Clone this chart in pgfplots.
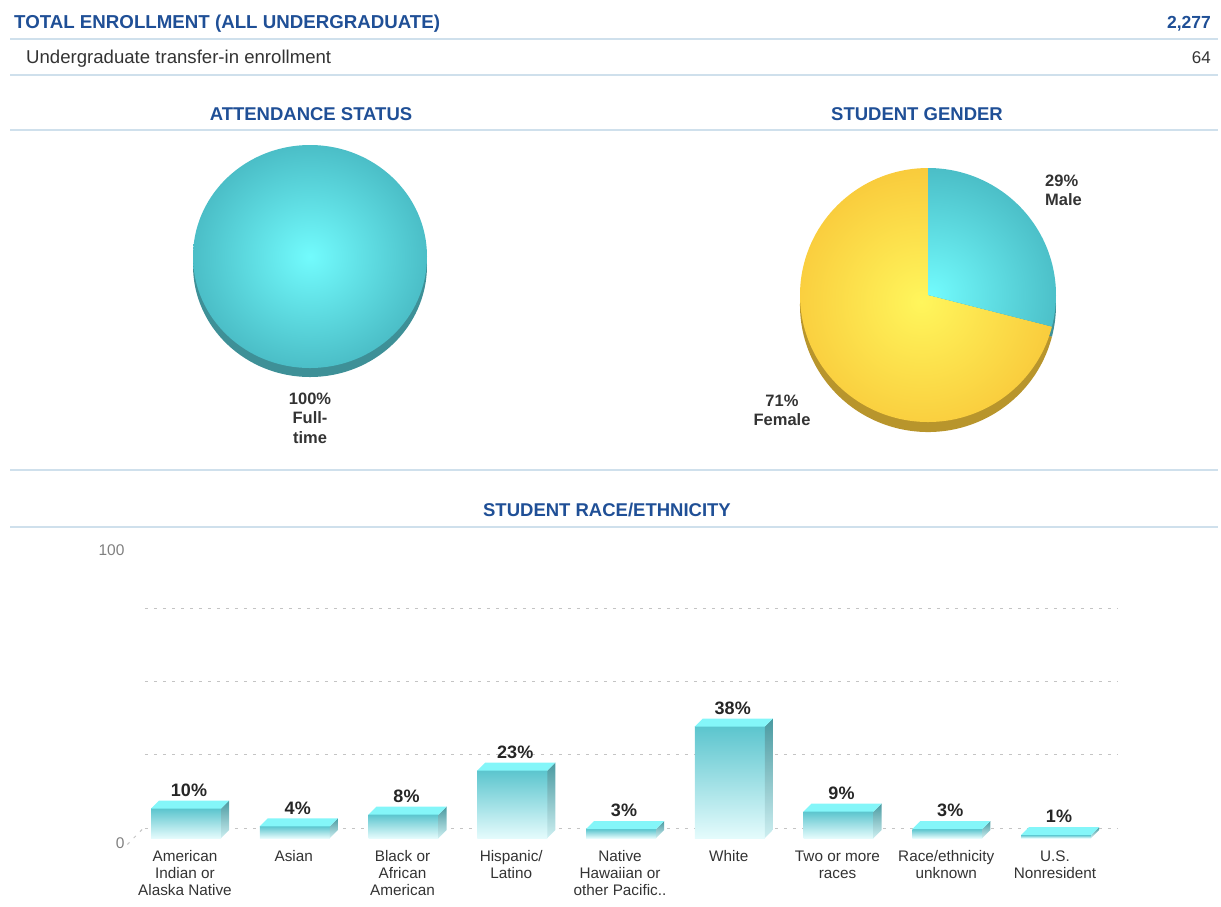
\documentclass[border=0pt]{standalone}
\usepackage{pgfplots}
\pgfplotsset{compat=1.18}
\usepackage{pgfplotstable}
\usepackage{fontspec}
\setmainfont{Liberation Sans}

\definecolor{hdrblue}{HTML}{1F4F96}
\definecolor{rulec}{HTML}{CFE0EC}
\definecolor{txt}{HTML}{333333}
\definecolor{tickgray}{HTML}{808080}
\definecolor{tealout}{HTML}{4BBEC7}
\definecolor{tealin}{HTML}{72FBFD}
\definecolor{tealrim}{HTML}{3E9097}
\definecolor{yelout}{HTML}{F9CB3C}
\definecolor{yelin}{HTML}{FFF65C}
\definecolor{yelrim}{HTML}{B8952C}
\definecolor{fronttop}{HTML}{5CC5CE}
\definecolor{frontbot}{HTML}{E4FBFC}
\definecolor{topface}{HTML}{84F6F9}
\definecolor{sidetop}{HTML}{4A9AA1}
\definecolor{sidebot}{HTML}{CDEFF1}
\definecolor{gridc}{HTML}{C4C4C4}

\pgfplotstableread{
idx value
0 10
1 4
2 8
3 23
4 3
5 38
6 9
7 3
8 1
}\racetable

\pgfplotstableread{
label value
Fulltime 100
}\attendtable

\pgfplotstableread{
label value
Male 29
Female 71
}\gendertable

\pgfdeclareplotmark{none3d}{}

\begin{document}
\begin{tikzpicture}
\pgfplotstablegetelem{0}{value}\of\gendertable
\edef\malepct{\pgfplotsretval}
\pgfmathsetmacro\maleend{90-3.6*\malepct}
\pgfmathsetmacro\mx{128*cos(\maleend)}
\pgfmathsetmacro\my{127*sin(\maleend)}
\pgfplotstablegetelem{0}{value}\of\attendtable
\edef\ftpct{\pgfplotsretval}
\pgfmathsetmacro\ftend{90-3.6*\ftpct}

\path[use as bounding box] (0pt,0pt) rectangle (1221pt,-906pt);

% ---- header table ----
\node[anchor=base west, inner sep=0pt, font=\fontsize{18.7}{21}\selectfont\bfseries, text=hdrblue] at (14pt,-28pt) {TOTAL ENROLLMENT (ALL UNDERGRADUATE)};
\node[anchor=base east, inner sep=0pt, font=\fontsize{17.5}{21}\selectfont\bfseries, text=hdrblue] at (1211pt,-28pt) {2,277};
\draw[rulec, line width=1.6pt] (10pt,-39pt) -- (1218pt,-39pt);
\node[anchor=base west, inner sep=0pt, font=\fontsize{18.6}{21}\selectfont, text=txt] at (26pt,-63pt) {Undergraduate transfer-in enrollment};
\node[anchor=base east, inner sep=0pt, font=\fontsize{17}{21}\selectfont, text=txt] at (1211pt,-63pt) {64};
\draw[rulec, line width=1.6pt] (10pt,-75pt) -- (1218pt,-75pt);

\node[anchor=base, inner sep=0pt, font=\fontsize{18.5}{21}\selectfont\bfseries, text=hdrblue] at (311pt,-120.5pt) {ATTENDANCE STATUS};
\node[anchor=base, inner sep=0pt, font=\fontsize{18.5}{21}\selectfont\bfseries, text=hdrblue] at (917pt,-120.5pt) {STUDENT GENDER};
\draw[rulec, line width=1.6pt] (10pt,-130pt) -- (1218pt,-130pt);
\draw[rulec, line width=1.6pt] (10pt,-470pt) -- (1218pt,-470pt);
\node[anchor=base, inner sep=0pt, font=\fontsize{18.5}{21}\selectfont\bfseries, text=hdrblue] at (607pt,-516pt) {STUDENT RACE/ETHNICITY};
\draw[rulec, line width=1.6pt] (10pt,-527pt) -- (1218pt,-527pt);

% ---- attendance pie ----
\begin{axis}[at={(310pt,-256.5pt)}, anchor=origin, x=1pt, y=1pt,
  xmin=-150, xmax=150, ymin=-150, ymax=150, hide axis, clip=false]
\fill[tealrim, yshift=-9pt] (axis cs:0,0) -- (axis cs:0,111.5) arc[start angle=90, end angle=\ftend, x radius=117pt, y radius=111.5pt] -- cycle;
\path[path picture={\shade[inner color=tealin, outer color=tealout] (axis cs:0,0) ellipse[x radius=117pt, y radius=111.5pt];}]
  (axis cs:0,0) -- (axis cs:0,111.5) arc[start angle=90, end angle=\ftend, x radius=117pt, y radius=111.5pt] -- cycle;
\node[align=center, font=\fontsize{16.5}{19.5}\selectfont\bfseries, text=txt, inner sep=0pt] at (axis cs:0,-161.5) {100\%\\Full-\\time};
\end{axis}

% ---- gender pie ----
\begin{axis}[at={(928pt,-295pt)}, anchor=origin, x=1pt, y=1pt,
  xmin=-150, xmax=150, ymin=-150, ymax=150, hide axis, clip=false]
\fill[yelrim, yshift=-10pt] (axis cs:0,0) -- (axis cs:\mx,\my) arc[start angle=\maleend, end angle=-270, x radius=128pt, y radius=127pt] -- cycle;
\fill[tealrim, yshift=-10pt] (axis cs:0,0) -- (axis cs:0,127) arc[start angle=90, end angle=\maleend, x radius=128pt, y radius=127pt] -- cycle;
\path[path picture={\shade[inner color=yelin, outer color=yelout] (axis cs:0,0) ellipse[x radius=128pt, y radius=127pt];}]
  (axis cs:0,0) -- (axis cs:\mx,\my) arc[start angle=\maleend, end angle=-270, x radius=128pt, y radius=127pt] -- cycle;
\path[path picture={\shade[inner color=tealin, outer color=tealout] (axis cs:0,0) ellipse[x radius=128pt, y radius=127pt];}]
  (axis cs:0,0) -- (axis cs:0,127) arc[start angle=90, end angle=\maleend, x radius=128pt, y radius=127pt] -- cycle;
\node[anchor=west, align=left, font=\fontsize{16.5}{19}\selectfont\bfseries, text=txt, inner sep=0pt] at (axis cs:117,104.5) {29\%\\Male};
\node[align=center, font=\fontsize{16.5}{19}\selectfont\bfseries, text=txt, inner sep=0pt] at (axis cs:-146,-115.5) {71\%\\Female};
\end{axis}

% ---- race / ethnicity bars ----
\begin{axis}[at={(185pt,-838pt)}, anchor=origin,
  x=108.75pt, y=2.93pt,
  xmin=-0.368, xmax=8.58, ymin=0, ymax=100,
  clip=false,
  axis line style={draw=none},
  major tick length=0pt,
  tick style={draw=none},
  /pgf/number format/assume math mode=true,
  ytick={0,100},
  yticklabel style={font=\fontsize{15.5}{16}\selectfont, text=tickgray, anchor=east, xshift=-17pt, yshift=-5.5pt},
  xtick={0,1,2,3,4,5,6,7,8},
  xticklabels={{American\\Indian or\\Alaska Native},{Asian},{Black or\\African\\American},{Hispanic/\\Latino},{Native\\Hawaiian or\\other Pacific..},{White},{Two or more\\races},{Race/ethnicity\\unknown},{U.S.\\Nonresident}},
  xticklabel style={align=center, font=\fontsize{15.3}{17}\selectfont, text=txt, anchor=north, yshift=-9pt},
  extra y ticks={0,25,50,75},
  extra y tick labels={},
  extra y tick style={grid=major, major grid style={gridc, line width=1pt, dash pattern=on 3pt off 6pt, yshift=10pt}},
]
\draw[gridc, line width=1pt, dash pattern=on 3pt off 6pt] (axis cs:-0.53,-2.2) -- (axis cs:-0.386,3.2);
% 3D bars: front, side and top faces drawn at each data point
\addplot[scatter, only marks, mark=none3d,
  visualization depends on={rawy \as \val},
  scatter/@pre marker code/.code={%
    \pgfmathsetmacro\hh{\val*2.93}%
    \pgfmathsetmacro\hb{8-\hh}%
    \shade[draw=none, top color=fronttop, bottom color=frontbot] (-34pt,0pt) rectangle (36pt,-\hh pt);
    \shade[draw=none, top color=sidetop, bottom color=sidebot] (36pt,0pt) -- (44pt,8pt) -- (44pt,\hb pt) -- (36pt,-\hh pt) -- cycle;
    \fill[draw=none, topface] (-34pt,0pt) -- (36pt,0pt) -- (44pt,8pt) -- (-26pt,8pt) -- cycle;
  },
  scatter/@post marker code/.code={}]
  table[x=idx, y=value] {\racetable};
% value labels
\addplot[only marks, mark=none3d, point meta=y,
  nodes near coords={\pgfmathprintnumber{\pgfplotspointmeta}\%},
  nodes near coords style={anchor=south, font=\fontsize{18}{20}\selectfont\bfseries, text=black!85, xshift=4pt, yshift=8.5pt}]
  table[x=idx, y=value] {\racetable};
\end{axis}
\end{tikzpicture}
\end{document}
